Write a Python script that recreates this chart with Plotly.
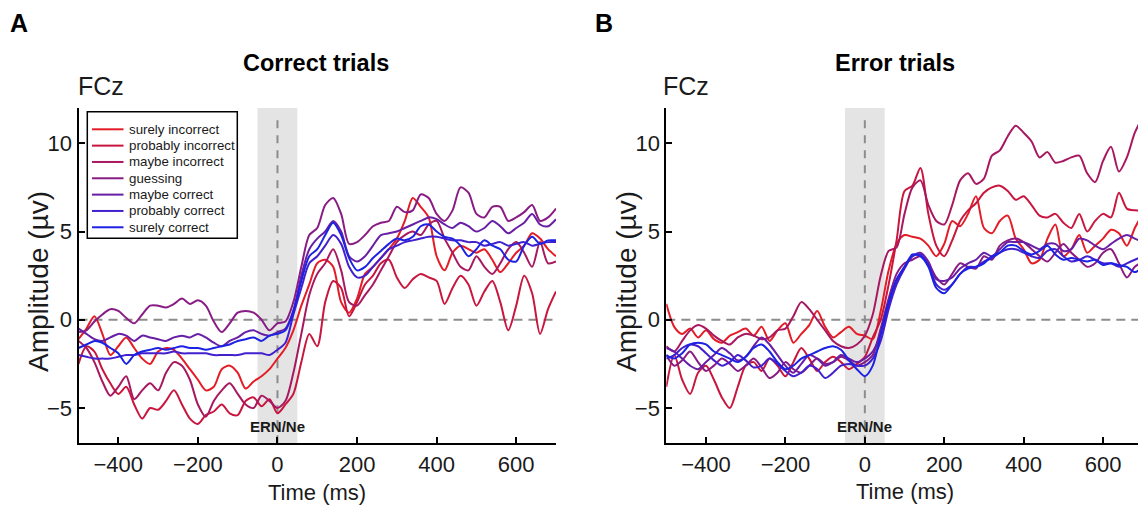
import plotly.graph_objects as go

# ---------------- data ----------------
time_ms = list(range(-500, 701, 20))

categories = ["surely incorrect", "probably incorrect", "maybe incorrect", "guessing",
              "maybe correct", "probably correct", "surely correct"]

# Correct trials (panel A)
correct_surely_incorrect = [-1.1, -0.5, 0.2, -0.8, -2.0, -1.5, -1.0, -1.6, -2.2, -2.5, -1.8, -1.6, -1.7, -2.2, -2.8,
                            -3.4, -4.0, -3.8, -2.8, -2.6, -3.0, -3.9, -3.5, -3.2, -2.8, -2.2, -1.6, -0.6, 0.8, 2.0,
                            3.2, 3.4, 3.0, 1.0, 0.4, 1.2, 2.6, 3.0, 3.5, 4.0, 4.6, 5.6, 6.9, 6.4, 5.8, 3.6,
                            2.8, 3.8, 4.2, 4.0, 3.8, 4.0, 3.4, 2.7, 3.2, 3.8, 4.2, 4.9, 4.6, 4.0, 3.6]
correct_probably_incorrect = [-2.5, -1.5, -1.8, -2.8, -3.6, -4.2, -3.8, -4.8, -5.6, -5.0, -5.1, -4.6, -4.0, -4.8, -5.6,
                              -5.9, -5.4, -5.2, -4.8, -5.3, -5.4, -4.6, -4.4, -4.9, -4.5, -5.3, -4.8, -4.2, -2.4, -0.8,
                              -1.5, 1.0, 2.2, 1.8, 0.2, 1.0, 2.0, 2.5, 3.2, 3.4, 2.4, 1.8, 2.3, 2.6, 2.4, 2.2,
                              0.9, 1.8, 2.5, 2.0, 0.8, 1.6, 2.2, 1.0, -0.6, 0.8, 2.5, 1.5, -0.8, 0.6, 1.6]
correct_maybe_incorrect = [-1.2, -1.6, -2.4, -3.5, -4.3, -3.8, -3.2, -4.5, -4.0, -3.6, -4.0, -3.0, -2.4, -2.6, -3.4,
                           -4.8, -5.5, -4.6, -4.0, -3.6, -4.2, -4.8, -5.0, -4.3, -4.6, -5.0, -4.6, -3.0, -0.8, 1.4,
                           2.6, 3.2, 4.0, 2.8, 1.0, 0.8, 1.4, 2.0, 2.8, 3.6, 4.4, 4.8, 5.0, 4.8, 5.4, 5.6,
                           4.6, 3.8, 3.0, 2.8, 3.6, 3.0, 2.6, 3.2, 4.0, 4.4, 3.8, 3.0, 4.4, 3.2, 3.3]
correct_guessing = [-0.7, -0.6, -0.1, 0.3, 0.6, 0.5, 0.1, -0.2, 0.3, 0.8, 0.8, 0.7, 0.9, 1.2, 0.9,
                    1.1, 0.8, -0.1, -0.7, -0.2, 0.4, 0.5, 0.4, 0.0, -0.6, -0.2, -0.1, 1.0, 3.0, 4.8,
                    5.2, 6.5, 6.9, 6.0, 4.3, 4.4, 4.8, 5.3, 5.5, 5.6, 6.4, 6.1, 6.2, 7.1, 6.9, 6.0,
                    5.6, 6.2, 7.5, 7.2, 6.0, 5.8, 6.4, 6.4, 5.6, 5.8, 6.1, 6.5, 5.6, 5.8, 6.3]
correct_maybe_correct = [-0.5, -0.8, -1.1, -1.2, -1.0, -0.8, -0.9, -1.2, -0.9, -1.0, -1.1, -1.2, -1.0, -0.9, -1.0,
                         -0.8, -1.0, -1.3, -1.5, -1.2, -1.0, -0.7, -0.6, -0.8, -0.9, -0.7, -0.5, 0.5, 2.5, 4.0,
                         4.6, 5.0, 5.6, 5.0, 3.6, 3.3, 3.6, 4.2, 4.8, 4.9, 5.0, 5.2, 5.4, 5.6, 5.8, 5.7,
                         5.4, 5.2, 5.5, 5.3, 5.0, 5.2, 5.6, 5.3, 4.9, 5.2, 5.5, 6.0, 5.4, 5.3, 5.7]
correct_probably_correct = [-2.0, -2.1, -2.2, -2.2, -2.2, -2.1, -2.0, -2.0, -1.9, -1.9, -1.9, -1.9, -1.8, -1.9, -1.9,
                            -1.9, -1.9, -2.0, -2.0, -2.0, -2.0, -1.9, -1.9, -1.9, -2.0, -1.7, -1.3, 0.3, 1.8, 3.2,
                            3.6, 4.2, 4.8, 4.3, 3.0, 2.4, 2.5, 3.0, 3.5, 4.0, 4.2, 4.4, 4.5, 4.6, 4.7, 4.7,
                            4.6, 4.5, 4.5, 4.4, 4.4, 4.2, 4.3, 4.4, 4.2, 4.3, 4.4, 4.2, 4.3, 4.4, 4.4]
correct_surely_correct = [-1.6, -1.4, -1.2, -1.3, -1.6, -1.9, -2.5, -2.0, -1.8, -1.7, -1.6, -1.7, -1.6, -1.5, -1.6,
                          -1.6, -1.7, -1.6, -1.5, -1.4, -1.2, -1.1, -1.0, -1.2, -0.9, -0.8, -0.6, 0.5, 2.2, 3.6,
                          4.0, 4.8, 5.5, 4.8, 3.5, 2.8, 3.0, 3.5, 3.9, 4.3, 4.6, 4.5, 4.7, 5.3, 5.4, 5.0,
                          4.7, 4.6, 4.2, 3.6, 4.0, 4.5, 4.2, 4.0, 3.4, 3.3, 4.2, 4.7, 4.3, 4.5, 4.5]

# Error trials (panel B)
error_surely_incorrect = [0.9, -0.4, -0.8, -0.5, -1.0, -0.6, -1.1, -1.3, -0.9, -0.7, -0.5, -0.9, -0.4, -1.2, -0.6,
                          -0.2, -1.3, -0.8, -0.3, 0.5, -0.4, -1.0, -0.7, -0.4, -0.8, -0.9, -1.1, 0.5, 2.8, 4.3,
                          4.8, 4.7, 4.6, 4.2, 3.6, 4.3, 5.6, 5.3, 6.0, 7.0, 5.2, 4.9, 5.6, 5.9, 4.6, 4.0,
                          3.2, 3.4, 4.6, 5.4, 3.6, 4.0, 4.8, 3.8, 4.2, 4.6, 5.1, 4.9, 4.2, 5.2, 6.0]
error_probably_incorrect = [-3.8, -2.0, -3.4, -4.2, -3.0, -2.6, -3.4, -4.4, -5.0, -3.8, -2.6, -2.4, -2.9, -2.2, -2.6,
                            -3.2, -2.4, -1.6, -2.2, -2.9, -2.4, -2.1, -2.4, -2.8, -2.5, -2.1, -1.0, 0.0, 2.0, 4.5,
                            7.3, 7.6, 8.6, 6.0, 4.2, 3.6, 4.5, 5.6, 6.2, 6.6, 7.2, 7.5, 7.6, 7.3, 6.8, 7.0,
                            6.5, 5.9, 5.8, 6.0, 5.5, 5.2, 6.0, 5.0, 5.6, 6.0, 5.8, 7.2, 6.3, 6.2, 6.2]
error_maybe_incorrect = [-1.5, -1.8, -1.2, -0.6, -0.3, -0.5, -0.9, -1.2, -1.4, -1.0, -0.8, -0.9, -1.1, -1.0, -0.6,
                         -0.5, 0.2, 1.0, 0.6, 0.0, -0.6, -1.2, -1.5, -1.6, -1.4, -0.9, 0.3, 2.5, 3.9, 4.1,
                         6.0, 7.5, 7.9, 6.5, 5.6, 5.4, 6.5, 7.9, 8.3, 7.7, 8.0, 9.3, 9.6, 10.4, 11.0, 10.6,
                         10.1, 9.2, 9.5, 8.9, 9.0, 9.2, 9.3, 8.3, 7.8, 9.0, 9.8, 8.4, 9.2, 10.6, 11.5]
error_guessing = [-2.0, -2.6, -2.3, -1.8, -2.4, -2.9, -2.6, -2.2, -2.5, -2.9, -2.6, -2.2, -2.7, -3.3, -3.0,
                  -2.4, -2.8, -3.0, -2.6, -2.2, -2.5, -2.4, -2.1, -2.3, -2.6, -2.4, -2.0, -0.5, 1.2, 2.6,
                  3.2, 3.4, 3.6, 3.2, 2.4, 2.0, 2.6, 3.2, 3.0, 2.9, 3.6, 3.4, 4.2, 4.5, 4.6, 4.4,
                  4.0, 3.6, 3.3, 3.8, 4.3, 3.8, 3.4, 3.0, 3.2, 3.8, 4.0, 3.2, 2.4, 3.0, 3.3]
error_maybe_correct = [-1.6, -1.8, -2.2, -2.6, -2.8, -2.4, -2.0, -1.6, -1.9, -2.3, -2.1, -1.5, -1.0, -1.4, -2.0,
                       -2.6, -3.0, -2.5, -2.0, -2.2, -2.6, -2.4, -2.0, -2.2, -2.4, -2.2, -1.8, -0.8, 0.8, 2.2,
                       3.0, 3.6, 3.8, 3.3, 2.3, 2.2, 2.4, 2.9, 3.2, 3.4, 3.8, 3.6, 4.0, 4.4, 4.4, 4.4,
                       4.2, 4.0, 4.3, 4.3, 3.9, 4.0, 4.6, 4.5, 4.2, 4.0, 4.3, 4.6, 4.8, 4.6, 4.4]
error_probably_correct = [-2.2, -2.0, -1.6, -1.4, -1.5, -1.9, -2.3, -2.6, -2.4, -2.0, -2.3, -2.7, -2.6, -2.2, -2.5,
                          -2.9, -3.2, -3.0, -2.6, -2.8, -3.3, -3.0, -2.6, -2.5, -2.6, -2.6, -2.2, -1.2, 0.6, 2.0,
                          2.9, 3.6, 3.7, 3.1, 2.0, 1.7, 2.0, 2.6, 3.0, 3.0, 3.3, 3.5, 3.8, 4.0, 4.0, 3.8,
                          3.6, 3.5, 3.9, 4.0, 3.6, 3.3, 3.4, 3.6, 3.4, 3.2, 3.2, 3.0, 3.2, 3.4, 3.6]
error_surely_correct = [-2.0, -2.2, -1.9, -1.4, -1.3, -1.4, -1.8, -2.0, -2.2, -2.4, -2.1, -1.6, -1.4, -1.8, -2.4,
                        -2.8, -2.6, -2.2, -2.0, -1.8, -1.6, -1.5, -1.7, -2.3, -2.8, -3.2, -2.6, -0.8, 1.0, 2.3,
                        3.0, 3.7, 3.6, 3.0, 1.8, 1.5, 2.0, 2.6, 2.9, 3.0, 3.2, 3.6, 3.8, 4.2, 4.2, 3.9,
                        3.7, 3.9, 4.2, 3.7, 3.4, 3.5, 3.4, 3.3, 3.4, 3.1, 3.2, 3.1, 3.0, 2.7, 3.0]

x_ticks = [-400, -200, 0, 200, 400, 600]
y_ticks = [-5, 0, 5, 10]

# ---------------- style ----------------
W, H = 1138, 506
FONT = "Liberation Sans, Arial, Helvetica, sans-serif"
colors = ["rgb(228,28,38)", "rgb(200,22,62)", "rgb(168,24,96)", "rgb(136,28,132)",
          "rgb(104,30,165)", "rgb(66,32,205)", "rgb(28,34,228)"]

correct_series = [correct_surely_incorrect, correct_probably_incorrect, correct_maybe_incorrect,
                  correct_guessing, correct_maybe_correct, correct_probably_correct, correct_surely_correct]
error_series = [error_surely_incorrect, error_probably_incorrect, error_maybe_incorrect,
                error_guessing, error_maybe_correct, error_probably_correct, error_surely_correct]


def px_x(p):
    return p / W


def px_y(p):
    return 1 - p / H


fig = go.Figure()

for i, (name, vals) in enumerate(zip(categories, correct_series)):
    fig.add_trace(go.Scatter(x=time_ms, y=vals, name=name, mode="lines",
                             line=dict(color=colors[i], width=2, shape="spline", smoothing=0.8),
                             xaxis="x", yaxis="y", showlegend=False))
for i, (name, vals) in enumerate(zip(categories, error_series)):
    fig.add_trace(go.Scatter(x=time_ms, y=vals, name=name, mode="lines",
                             line=dict(color=colors[i], width=2, shape="spline", smoothing=0.8),
                             xaxis="x2", yaxis="y2", showlegend=False))

y_dom = [px_y(443.3), px_y(108)]
axis_common = dict(showgrid=False, zeroline=False, showline=True, linecolor="black", linewidth=2,
                   ticks="inside", ticklen=6, tickwidth=1.5, tickcolor="black",
                   tickfont=dict(family=FONT, size=22, color="#1a1a1a"))

fig.update_layout(
    width=W, height=H,
    margin=dict(l=0, r=0, t=0, b=0),
    paper_bgcolor="white", plot_bgcolor="white",
    font=dict(family=FONT),
    showlegend=False,
    xaxis=dict(domain=[px_x(78.5), px_x(556)], range=[-500, 700], tickvals=x_ticks,
               anchor="y", **axis_common),
    yaxis=dict(domain=y_dom, range=[-7, 12], tickvals=y_ticks, anchor="x", **axis_common),
    xaxis2=dict(domain=[px_x(666.3), 1.0], range=[-500, 688], tickvals=x_ticks,
                anchor="y2", **axis_common),
    yaxis2=dict(domain=y_dom, range=[-7, 12], tickvals=y_ticks, anchor="x2", **axis_common),
)

shapes = []
for xa, ya, xmax in (("x", "y", 700), ("x2", "y2", 688)):
    shapes.append(dict(type="rect", xref=xa, yref=ya, x0=-50, x1=50, y0=-7, y1=12,
                       fillcolor="#e4e4e4", line=dict(width=0), layer="below"))
    shapes.append(dict(type="line", xref=xa, yref=ya, x0=-500, x1=xmax, y0=0, y1=0,
                       line=dict(color="#8c8c8c", width=2, dash="9px,6px"), layer="below"))
    shapes.append(dict(type="line", xref=xa, yref=ya, x0=0, x1=0, y0=-7, y1=11.7,
                       line=dict(color="#8c8c8c", width=2, dash="8px,7px"), layer="below"))

# legend box (panel A), drawn in paper coordinates
LEG_X0, LEG_X1, LEG_Y0, LEG_Y1 = 87.3, 237.3, 111.7, 238.3
ROW0, ROW_STEP = 129.3, 16.33
shapes.append(dict(type="rect", xref="paper", yref="paper",
                   x0=px_x(LEG_X0), x1=px_x(LEG_X1), y0=px_y(LEG_Y1), y1=px_y(LEG_Y0),
                   fillcolor="white", line=dict(color="black", width=1.5), layer="above"))
for i in range(len(categories)):
    yy = px_y(ROW0 + i * ROW_STEP)
    shapes.append(dict(type="line", xref="paper", yref="paper", x0=px_x(92), x1=px_x(123.5),
                       y0=yy, y1=yy, line=dict(color=colors[i], width=2), layer="above"))
fig.update_layout(shapes=shapes)

ann = []


def txt(text, x, y, size, bold=False, angle=0, color="black", xanchor="center"):
    ann.append(dict(text=f"<b>{text}</b>" if bold else text, x=px_x(x), y=px_y(y),
                    xref="paper", yref="paper", xanchor=xanchor, yanchor="middle",
                    showarrow=False, textangle=angle,
                    font=dict(family=FONT, size=size, color=color)))


for i, name in enumerate(categories):
    txt(name, 126.5, ROW0 + i * ROW_STEP, 13.3, color="#1a1a1a", xanchor="left")

txt("A", 19, 23, 25, bold=True)
txt("B", 604, 23, 25, bold=True)
txt("Correct trials", 316, 63, 23.5, bold=True)
txt("Error trials", 895, 63, 23.5, bold=True)
txt("FCz", 101, 86, 25, color="#1a1a1a")
txt("FCz", 686, 86, 25, color="#1a1a1a")
txt("Amplitude (µv)", 38, 282, 28, angle=-90, color="#1a1a1a")
txt("Amplitude (µv)", 626, 282, 28, angle=-90, color="#1a1a1a")
txt("Time (ms)", 317, 492, 22, color="#1a1a1a")
txt("Time (ms)", 905, 491, 22, color="#1a1a1a")

for xa, ya in (("x", "y"), ("x2", "y2")):
    ann.append(dict(text="<b>ERN/Ne</b>", x=0, y=-6.06, xref=xa, yref=ya, showarrow=False,
                    xanchor="center", yanchor="middle",
                    font=dict(family=FONT, size=15, color="#1a1a1a")))

fig.update_layout(annotations=ann)

fig.write_html("out.html")
